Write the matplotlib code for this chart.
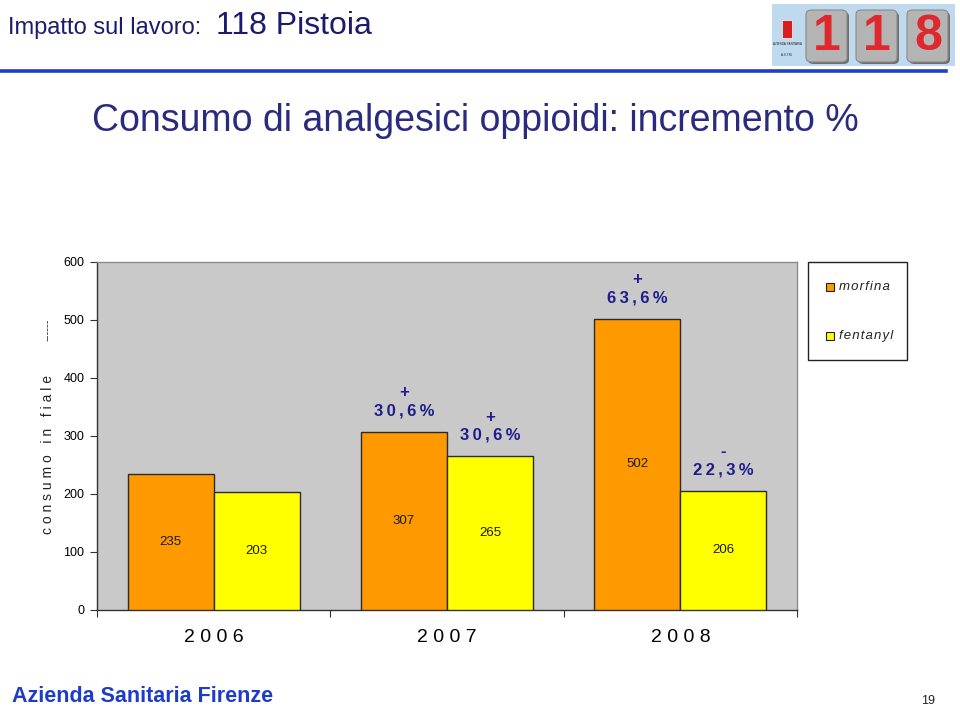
import matplotlib
matplotlib.use("Agg")
import matplotlib.pyplot as plt
from matplotlib.patches import Rectangle, FancyBboxPatch
from matplotlib.lines import Line2D
import numpy as np

plt.rcParams['font.family'] = ['Liberation Sans', 'DejaVu Sans']

# ---- data ----
years = ["2 0 0 6", "2 0 0 7", "2 0 0 8"]
morfina = [235, 307, 502]
fentanyl = [203, 265, 206]
series_names = ["morfina", "fentanyl"]
# percent annotations: (year index, series index, sign, text)
pct_year = [1, 1, 2, 2]
pct_series = [0, 1, 0, 1]
pct_sign = ["+", "+", "+", "-"]
pct_text = ["30,6%", "30,6%", "63,6%", "22,3%"]
yticks = [0, 100, 200, 300, 400, 500, 600]

W, H = 960, 710
fig = plt.figure(figsize=(W / 100, H / 100), dpi=100)
fig.patch.set_facecolor("white")

def fx(px):
    return px / W

def fy(py):
    return 1 - py / H

def spaced(s, sp="\u2009"):
    return sp.join(list(s))

navy = "#1B1B6E"
pct_col = "#1C1C8A"

# header
fig.text(fx(8), fy(34), "Impatto sul lavoro:", fontsize=17, color=navy, va="baseline", ha="left")
fig.text(fx(216), fy(34), "118 Pistoia", fontsize=23, color=navy, va="baseline", ha="left")
fig.add_artist(Line2D([0, fx(946)], [fy(71), fy(71)], color="#1F3FC8", lw=2.6))

# logo
fig.add_artist(Rectangle((fx(772), fy(66)), fx(955) - fx(772), fy(4) - fy(66),
                         facecolor="#BFD9EE", edgecolor="none"))
for x0 in [806, 856, 907]:
    fig.add_artist(FancyBboxPatch((fx(x0 + 2), fy(64)), fx(41), fy(12) - fy(64),
                                  boxstyle="round,pad=0.0,rounding_size=0.006",
                                  facecolor="#6E6E6E", edgecolor="none"))
    fig.add_artist(FancyBboxPatch((fx(x0), fy(62)), fx(41), fy(10) - fy(62),
                                  boxstyle="round,pad=0.0,rounding_size=0.006",
                                  facecolor="#B4B4B4", edgecolor="#8A8A8A", lw=0.8))
for x0, d in zip([806, 856, 907], ["1", "1", "8"]):
    fig.text(fx(x0 + 21), fy(37), d, fontsize=36, fontweight="bold", color="#E0282C",
             ha="center", va="center", family=["Liberation Sans", "DejaVu Sans"])
fig.add_artist(Rectangle((fx(782), fy(38)), fx(10), fy(20) - fy(38),
                         facecolor="#D62020", edgecolor="white", lw=0.5))
fig.text(fx(787), fy(44), "AZIENDA SANITARIA", fontsize=2.2, color="#222", ha="center", va="center")
fig.text(fx(787), fy(55), "A.S.T.M.", fontsize=2.2, color="#222", ha="center", va="center")

# title
fig.text(fx(475), fy(121), "Consumo di analgesici oppioidi: incremento %", fontsize=27,
         color="#2B2B7E", ha="center", va="center")

# ---- chart ----
left, right, top, bottom = 97, 797, 262, 610
ax = fig.add_axes([fx(left), fy(bottom), fx(right - left), fy(top) - fy(bottom)])
ax.set_facecolor("#C9C9C9")
x = np.arange(len(years))
bw = 0.369
b1 = ax.bar(x - bw / 2, morfina, bw, color="#FF9900", edgecolor="#2A2A2A", lw=1.0, label=series_names[0], zorder=3)
b2 = ax.bar(x + bw / 2, fentanyl, bw, color="#FFFF00", edgecolor="#2A2A2A", lw=1.0, label=series_names[1], zorder=3)
ax.set_xlim(-0.5, len(years) - 0.5)
ax.set_ylim(0, 600)
ax.set_yticks(yticks)
ax.set_yticklabels([str(v) for v in yticks], fontsize=9)
ax.set_xticks(np.arange(len(years) + 1) - 0.5)
ax.set_xticklabels([])
ax.set_xticks(x, minor=True)
ax.set_xticklabels(years, minor=True, fontsize=14)
ax.tick_params(axis="x", which="minor", length=0, pad=14)
ax.tick_params(axis="x", which="major", length=5, direction="out", color="#333")
ax.tick_params(axis="y", length=5, direction="out", color="#333", pad=4)
for s in ["left", "bottom"]:
    ax.spines[s].set_color("#333333")
    ax.spines[s].set_linewidth(1.0)
for s in ["top", "right"]:
    ax.spines[s].set_color("#8C8C8C")
    ax.spines[s].set_linewidth(1.0)

# value labels
for bars, vals in [(b1, morfina), (b2, fentanyl)]:
    for r, v in zip(bars, vals):
        ax.text(r.get_x() + r.get_width() / 2, v / 2, str(v), ha="center", va="center",
                fontsize=9.5, color="#1A1A1A", zorder=4)

# percent annotations
data = [morfina, fentanyl]
for yi, si, sg, tx in zip(pct_year, pct_series, pct_sign, pct_text):
    xc = x[yi] + (bw / 2 if si else -bw / 2)
    v = data[si][yi]
    ax.annotate(spaced(tx), xy=(xc, v), xytext=(0, 21), textcoords="offset pixels", ha="center",
                va="center", fontsize=12, fontweight="bold", color=pct_col, zorder=4)
    ax.annotate(sg, xy=(xc, v), xytext=(0, 39), textcoords="offset pixels", ha="center",
                va="center", fontsize=12, fontweight="bold", color=pct_col, zorder=4)

# y label
fig.text(fx(48), fy(455), "c o n s u m o   i n   f i a l e", rotation=90, fontsize=10,
         color="#222222", ha="center", va="center")
fig.text(fx(48), fy(330), "------", rotation=90, fontsize=8, color="#222222", ha="center", va="center")

# legend
lx0, ly0, lx1, ly1 = 808, 262, 907, 360
fig.add_artist(Rectangle((fx(lx0), fy(ly1)), fx(lx1 - lx0), fy(ly0) - fy(ly1),
                         facecolor="white", edgecolor="#222222", lw=1.0))
for ly, col, name in [(287, "#FF9900", series_names[0]), (336, "#FFFF00", series_names[1])]:
    fig.add_artist(Rectangle((fx(826), fy(ly + 4)), fx(8), fy(ly - 4) - fy(ly + 4),
                             facecolor=col, edgecolor="#222222", lw=0.8))
    fig.text(fx(839), fy(ly), spaced(name, "\u200a"), fontsize=9.5, style="italic", color="#222222",
             ha="left", va="center")

# footer
fig.text(fx(12), fy(697), "Azienda Sanitaria Firenze", fontsize=15.5, fontweight="bold",
         color="#1E3CC8", ha="left", va="center")
fig.text(fx(928), fy(701), "19", fontsize=9, color="#222222", ha="center", va="center")

fig.savefig("out.png", dpi=100, facecolor="white")
